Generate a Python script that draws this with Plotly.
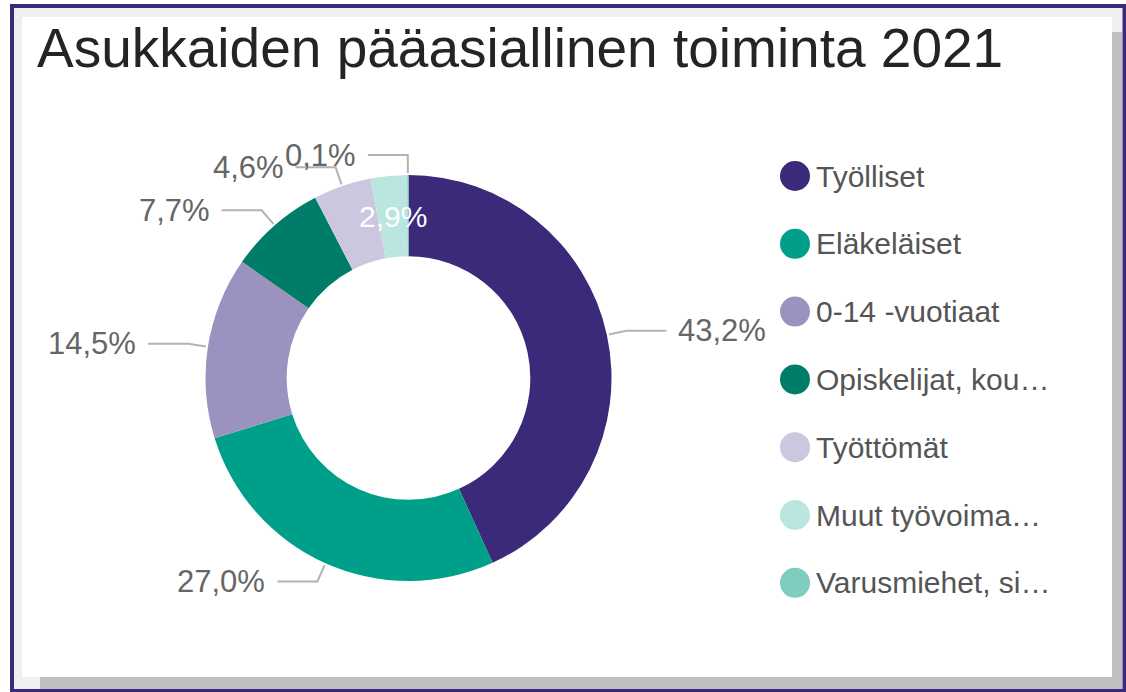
import math
import plotly.graph_objects as go

# ---- data ----
categories = ["Työlliset", "Eläkeläiset", "0-14 -vuotiaat", "Opiskelijat, koululaiset",
              "Työttömät", "Muut työvoiman ulkopuolella olevat", "Varusmiehet, siviilipalvelusmiehet"]
legend_labels = ["Työlliset", "Eläkeläiset", "0-14 -vuotiaat", "Opiskelijat, kou…",
                 "Työttömät", "Muut työvoima…", "Varusmiehet, si…"]
values = [43.2, 27.0, 14.5, 7.7, 4.6, 2.9, 0.1]
value_labels = ["43,2%", "27,0%", "14,5%", "7,7%", "4,6%", "2,9%", "0,1%"]
colors = ["#3b2a7a", "#009f8a", "#9c92bf", "#007d69", "#ccc7df", "#bbe6df", "#7fcdc1"]
inside_label = [False, False, False, False, False, True, False]
title_text = "Asukkaiden pääasiallinen toiminta 2021"

# ---- geometry (pixels) ----
W, H = 1126, 692
CX, CY, R = 408.5, 378.0, 203.0
HOLE = 0.6
FONT = "Liberation Sans, Arial, sans-serif"
LABEL_COLOR = "#666666"

fig = go.Figure()

fig.add_trace(go.Pie(
    labels=categories, values=values, sort=False, direction="clockwise", rotation=0,
    hole=HOLE, marker=dict(colors=colors, line=dict(width=0)),
    textinfo="none", hoverinfo="label+percent", showlegend=False,
    domain=dict(x=[(CX - R) / W, (CX + R) / W], y=[1 - (CY + R) / H, 1 - (CY - R) / H]),
))

# hidden pixel axes for decorations
fig.update_layout(
    xaxis=dict(range=[0, W], visible=False, fixedrange=True),
    yaxis=dict(range=[H, 0], visible=False, fixedrange=True),
)

shapes = []
# frame
shapes.append(dict(type="rect", xref="x", yref="y", x0=14, y0=8, x1=1123, y1=690,
                   fillcolor="#efefef", line=dict(width=0), layer="below"))
shapes.append(dict(type="rect", xref="x", yref="y", x0=40, y0=32, x1=1122, y1=690,
                   fillcolor="#bfbfbf", line=dict(width=0), layer="below"))
shapes.append(dict(type="rect", xref="x", yref="y", x0=22, y0=17, x1=1112, y1=677,
                   fillcolor="#ffffff", line=dict(width=0), layer="below"))
shapes.append(dict(type="rect", xref="x", yref="y", x0=12, y0=6, x1=1124.5, y1=691,
                   fillcolor="rgba(0,0,0,0)", line=dict(width=4, color="#3b2a7a"), layer="above"))

annotations = []
total = sum(values)
cum = 0.0
for v, lab, inside in zip(values, value_labels, inside_label):
    mid = (cum + v / 2) / total * 2 * math.pi
    cum += v
    s, c = math.sin(mid), math.cos(mid)
    if inside:
        rm = R * (1 + HOLE) / 2
        annotations.append(dict(xref="x", yref="y", x=CX + rm * s, y=CY - rm * c, text=lab,
                                showarrow=False, font=dict(family=FONT, size=30, color="#ffffff"),
                                xanchor="center", yanchor="middle"))
        continue
    x0, y0 = CX + (R + 2) * s, CY - (R + 2) * c
    x1, y1 = CX + (R + 20) * s, CY - (R + 20) * c
    side = 1 if s >= 0 else -1
    x2 = x1 + side * 40
    shapes.append(dict(type="path", xref="x", yref="y",
                       path=f"M{x0:.1f},{y0:.1f} L{x1:.1f},{y1:.1f} L{x2:.1f},{y1:.1f}",
                       line=dict(color="#b3b3b3", width=2), layer="above"))
    annotations.append(dict(xref="x", yref="y", x=x2 + side * 10, y=y1, text=lab,
                            showarrow=False, font=dict(family=FONT, size=31, color=LABEL_COLOR),
                            xanchor="left" if side > 0 else "right", yanchor="middle"))

# custom legend
LEG_X, LEG_Y0, LEG_STEP = 795, 176, 67.8
for i, (lab, col) in enumerate(zip(legend_labels, colors)):
    y = LEG_Y0 + i * LEG_STEP
    shapes.append(dict(type="circle", xref="x", yref="y", x0=LEG_X - 15, x1=LEG_X + 15,
                       y0=y - 15, y1=y + 15, fillcolor=col, line=dict(width=0), layer="above"))
    annotations.append(dict(xref="x", yref="y", x=LEG_X + 19, y=y, text=lab, showarrow=False,
                            font=dict(family=FONT, size=30, color="#555555"),
                            xanchor="left", yanchor="middle"))

# title
annotations.append(dict(xref="x", yref="y", x=35, y=48, text=title_text, showarrow=False,
                        font=dict(family=FONT, size=55, color="#252423"),
                        xanchor="left", yanchor="middle"))

fig.update_layout(
    width=W, height=H, margin=dict(l=0, r=0, t=0, b=0),
    paper_bgcolor="#ffffff", plot_bgcolor="rgba(0,0,0,0)",
    shapes=shapes, annotations=annotations, showlegend=False,
)

fig.write_html("out.html", config={"displayModeBar": False},
               post_script="document.body.style.margin='0';document.body.style.overflow='hidden';")
